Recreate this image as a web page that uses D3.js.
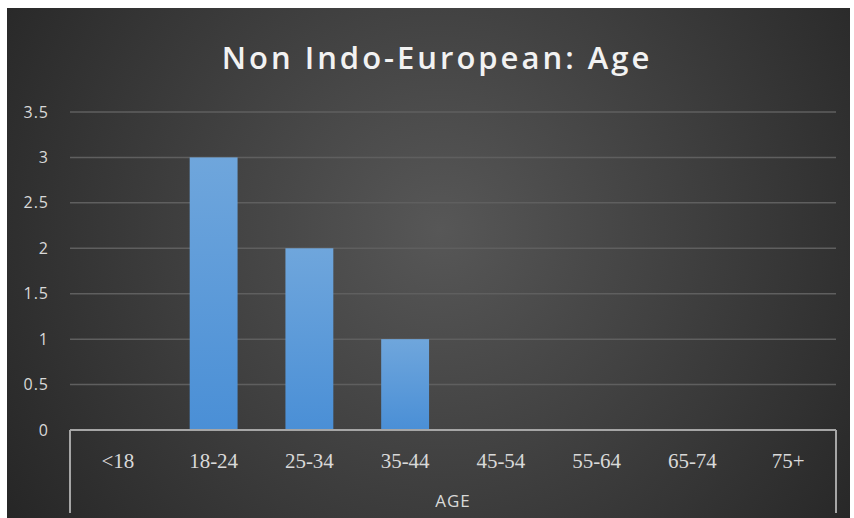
<!DOCTYPE html>
<html><head><meta charset="utf-8">
<script src="https://cdn.jsdelivr.net/npm/d3@7"></script>
<style>html,body{margin:0;padding:0;background:#fff;}svg{display:block;}</style>
</head><body>
<svg id="c" width="854" height="518"></svg>
<script>
const categories = ["<18","18-24","25-34","35-44","45-54","55-64","65-74","75+"];
const values = [0,3,2,1,0,0,0,0];
const yTicks = [0,0.5,1,1.5,2,2.5,3,3.5];
const title = "Non Indo-European: Age";
const axisTitle = "AGE";

const svg = d3.select("#c");
const defs = svg.append("defs");
const rg = defs.append("radialGradient").attr("id","bg")
  .attr("gradientUnits","userSpaceOnUse").attr("cx",440).attr("cy",230).attr("r",520);
rg.append("stop").attr("offset","0%").attr("stop-color","#575757");
rg.append("stop").attr("offset","100%").attr("stop-color","#262626");
const bg2 = defs.append("linearGradient").attr("id","bar").attr("x1",0).attr("y1",0).attr("x2",0).attr("y2",1);
bg2.append("stop").attr("offset","0%").attr("stop-color","#6fa6dc");
bg2.append("stop").attr("offset","100%").attr("stop-color","#4a8fd6");

svg.append("rect").attr("x",7).attr("y",8).attr("width",843).attr("height",510).attr("fill","url(#bg)");

const pLeft=70,pRight=836,pTop=112,pBottom=430;
const x = d3.scaleBand().domain(categories).range([pLeft,pRight]).paddingInner(0.5).paddingOuter(0.25);
const y = d3.scaleLinear().domain([0,3.5]).range([pBottom,pTop]);

// gridlines
svg.append("g").selectAll("line").data(yTicks.filter(d=>d>0)).join("line")
  .attr("x1",pLeft).attr("x2",pRight).attr("y1",d=>y(d)).attr("y2",d=>y(d))
  .attr("stroke","#5f5f5f").attr("stroke-width",1.5);

// y axis labels
const yAxis = d3.axisLeft(y).tickValues(yTicks).tickSize(0).tickPadding(0).tickFormat(d3.format("~g"));
const ya = svg.append("g").attr("transform","translate(49,0)").call(yAxis)
  .attr("font-size",null).attr("font-family",null);
ya.select(".domain").remove();
ya.selectAll("text")
  .style("fill","#d9d9d9").style("font-family","'Open Sans', sans-serif").style("font-size","16px")
  .style("letter-spacing","1px");

// bars
svg.append("g").selectAll("rect").data(categories.map((c,i)=>({c,v:values[i]})).filter(d=>d.v>0)).join("rect")
  .attr("x",d=>x(d.c)).attr("width",x.bandwidth())
  .attr("y",d=>y(d.v)).attr("height",d=>y(0)-y(d.v))
  .attr("fill","url(#bar)");

// x axis
const xAxis = d3.axisBottom(x).tickSize(0).tickPadding(0);
const xa = svg.append("g").attr("transform",`translate(0,${pBottom})`).call(xAxis)
  .attr("font-size",null).attr("font-family",null);
xa.select(".domain").remove();
xa.selectAll("text")
  .style("fill","#d9d9d9").style("font-family","'Liberation Serif', 'Times New Roman', 'DejaVu Serif', serif").style("font-size","21px")
  .attr("dy",0).attr("y",38);

svg.append("line").attr("x1",pLeft).attr("x2",pRight).attr("y1",pBottom).attr("y2",pBottom).attr("stroke","#a6a6a6").attr("stroke-width",2);
svg.append("line").attr("x1",pLeft).attr("x2",pLeft).attr("y1",pBottom).attr("y2",513).attr("stroke","#a6a6a6").attr("stroke-width",2);
svg.append("line").attr("x1",pRight).attr("x2",pRight).attr("y1",pBottom).attr("y2",513).attr("stroke","#a6a6a6").attr("stroke-width",2);

svg.append("text").attr("x",(pLeft+pRight)/2).attr("y",507).attr("text-anchor","middle")
  .style("fill","#d9d9d9").style("font-family","'Open Sans', sans-serif").style("font-size","17px")
  .style("letter-spacing","1px").text(axisTitle);

svg.append("text").attr("x",437).attr("y",69).attr("text-anchor","middle")
  .style("fill","#f2f2f2").style("font-family","'Open Sans', sans-serif").style("font-weight",600)
  .style("font-size","31px").style("letter-spacing","3px").text(title);
</script>
</body></html>
